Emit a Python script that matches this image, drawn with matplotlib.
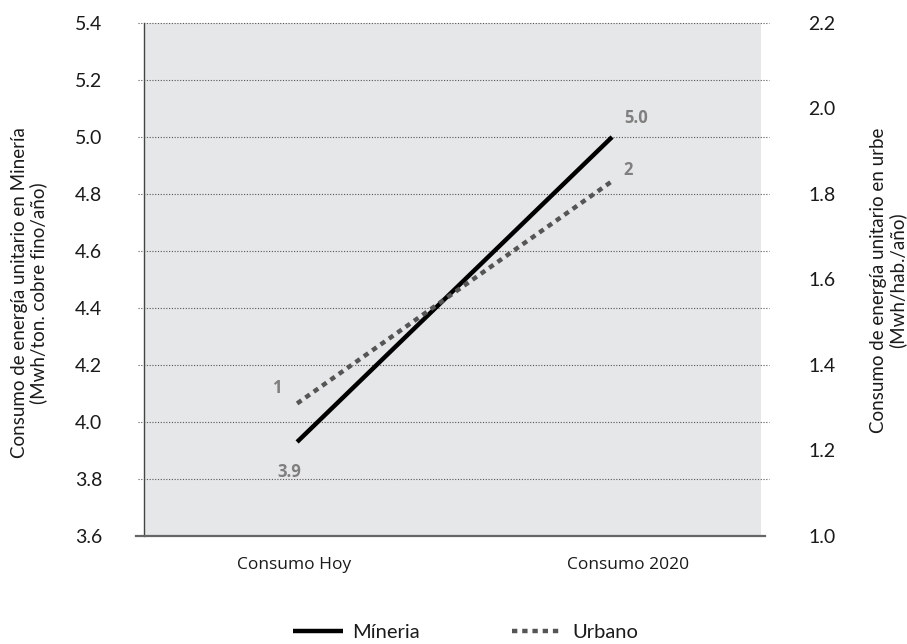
import matplotlib
matplotlib.use("Agg")
import matplotlib.pyplot as plt
import matplotlib.transforms as mtransforms
from matplotlib.lines import Line2D
import numpy as np

plt.rcParams['font.family'] = ['Lato', 'DejaVu Sans']

# Data
categories = ["Consumo Hoy", "Consumo 2020"]
mineria = [3.93, 5.0]          # MWh / ton. cobre fino / año
urbano = [1.31, 1.83]          # MWh / hab. / año
mineria_labels = ["3.9", "5.0"]
urbano_labels = ["1", "2"]
left_ticks = [3.6, 3.8, 4.0, 4.2, 4.4, 4.6, 4.8, 5.0, 5.2, 5.4]
right_ticks = [1.0, 1.2, 1.4, 1.6, 1.8, 2.0, 2.2]

TEXT = "#1a1a1a"

fig = plt.figure(figsize=(9.07, 6.44), dpi=100)
ax = fig.add_axes([0.1588, 0.1677, 0.6803, 0.7966])
ax.set_facecolor("#e6e7e8")

x = np.arange(len(categories))
ax.set_xlim(-0.486, 1.473)
ax.set_ylim(left_ticks[0], left_ticks[-1])

# Dotted horizontal guides running slightly past the plot area
ax.hlines(left_ticks[1:], -0.01, 1.013, transform=ax.get_yaxis_transform(),
          colors="#555555", linestyles=(0, (1, 1.5)), linewidth=0.8,
          clip_on=False, zorder=1)

for s in ["top", "right", "bottom"]:
    ax.spines[s].set_visible(False)
ax.spines["left"].set_color("#444444")
ax.spines["left"].set_linewidth(1.0)
ax.add_line(Line2D([-0.013, 1.006], [0, 0], transform=ax.transAxes,
                   color="#666666", linewidth=1.6, clip_on=False, zorder=3))

# Lines
l1, = ax.plot(x, mineria, color="black", linewidth=3.2, solid_capstyle="butt",
              zorder=4, label="Míneria")
ax2 = ax.twinx()
ax2.set_ylim(right_ticks[0], right_ticks[-1])
l2, = ax2.plot(x, urbano, color="#555555", linewidth=3.2,
               linestyle=(0, (1.2, 1.1)), dash_capstyle="butt",
               zorder=4, label="Urbano")
for s in ["top", "right", "bottom", "left"]:
    ax2.spines[s].set_visible(False)

# Value labels
lab_kw = dict(fontsize=12, fontweight="bold", color="#7f7f7f",
              family=["Open Sans", "DejaVu Sans"])
ax.annotate(mineria_labels[0], (x[0], mineria[0]), xytext=(-8, -30),
            textcoords="offset pixels", ha="center", va="center", **lab_kw)
ax.annotate(mineria_labels[1], (x[1], mineria[1]), xytext=(24, 19),
            textcoords="offset pixels", ha="center", va="center", **lab_kw)
ax2.annotate(urbano_labels[0], (x[0], urbano[0]), xytext=(-20, 15),
             textcoords="offset pixels", ha="center", va="center", **lab_kw)
ax2.annotate(urbano_labels[1], (x[1], urbano[1]), xytext=(16, 11),
             textcoords="offset pixels", ha="center", va="center", **lab_kw)

# Ticks
ax.set_yticks(left_ticks)
ax.set_yticklabels([f"{v:.1f}" for v in left_ticks])
ax.tick_params(axis="y", length=0, pad=30, labelsize=14, labelcolor=TEXT)
ax2.set_yticks(right_ticks)
ax2.set_yticklabels([f"{v:.1f}" for v in right_ticks])
ax2.tick_params(axis="y", length=0, pad=34, labelsize=14, labelcolor=TEXT)

ax.set_xticks(x)
ax.set_xticklabels(categories, family=["Open Sans", "DejaVu Sans"])
ax.tick_params(axis="x", length=0, pad=15, labelsize=12.5, labelcolor=TEXT)
offsets = [-3, 16]
for lbl, dx in zip(ax.get_xticklabels(), offsets):
    lbl.set_transform(lbl.get_transform() +
                      mtransforms.ScaledTranslation(dx / 100, 0, fig.dpi_scale_trans))

# Axis titles
fig.text(0.032, 0.545, "Consumo de energía unitario en Minería\n(Mwh/ton. cobre fino/año)",
         rotation=90, ha="center", va="center", fontsize=13.5, color=TEXT,
         linespacing=1.1)
fig.text(0.979, 0.565, "Consumo de energía unitario en urbe\n(Mwh/hab./año)",
         rotation=90, ha="center", va="center", fontsize=13.5, color=TEXT,
         linespacing=1.1)

# Legend
fig.legend(handles=[l1, l2], loc="center", bbox_to_anchor=(0.513, 0.018),
           ncol=2, frameon=False, prop=dict(size=14.5), labelcolor=TEXT,
           handlelength=2.5, handletextpad=0.45, columnspacing=4.6)

fig.savefig("out.png", dpi=100)
